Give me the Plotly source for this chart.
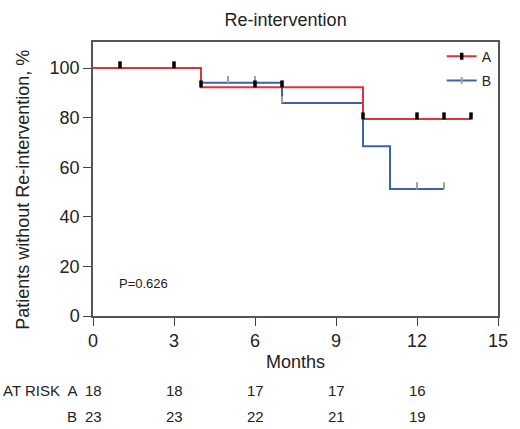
import plotly.graph_objects as go

# ---- data ----
time_a = [0, 4, 10, 14]
surv_a = [100, 92.3, 79.4, 79.4]
cens_time_a = [1, 3, 4, 6, 7, 10, 12, 13, 14]
cens_surv_a = [100, 100, 92.3, 92.3, 92.3, 79.4, 79.4, 79.4, 79.4]

time_b = [0, 4, 7, 10, 11, 13]
surv_b = [100, 94.1, 85.9, 68.5, 51.2, 51.2]
cens_time_b = [5, 6, 7, 12, 13]
cens_surv_b = [94.1, 94.1, 85.9, 51.2, 51.2]

risk_times = [0, 3, 6, 9, 12]
risk_a = [18, 18, 17, 17, 16]
risk_b = [23, 23, 22, 21, 19]
x_ticks = [0, 3, 6, 9, 12, 15]
y_ticks = [0, 20, 40, 60, 80, 100]

title_text = "Re-intervention"
y_title = "Patients without Re-intervention, %"
x_title = "Months"
p_text = "P=0.626"

RED = "#e0323c"
BLUE = "#3a62b4"
GRAY = "#a0a0a0"
FONT = "Liberation Sans, Arial, sans-serif"

# censor ticks sit just above the curve (visual offset, in y units)
MARK_LIFT = 1.3

fig = go.Figure()
fig.add_trace(go.Scatter(x=time_b, y=surv_b, mode="lines", line=dict(color=BLUE, width=2, shape="hv"),
                         showlegend=False, hoverinfo="skip"))
fig.add_trace(go.Scatter(x=time_a, y=surv_a, mode="lines", line=dict(color=RED, width=2, shape="hv"),
                         showlegend=False, hoverinfo="skip"))
fig.add_trace(go.Scatter(x=cens_time_b, y=[v + MARK_LIFT for v in cens_surv_b], mode="markers",
                         marker=dict(symbol="line-ns", size=5, line=dict(color=GRAY, width=2)),
                         showlegend=False))
fig.add_trace(go.Scatter(x=cens_time_a, y=[v + MARK_LIFT for v in cens_surv_a], mode="markers",
                         marker=dict(symbol="line-ns", size=5, line=dict(color="black", width=3.5)),
                         showlegend=False))
# legend entries
fig.add_trace(go.Scatter(x=[None], y=[None], mode="lines+markers", name="A", legendgroup="a",
                         line=dict(color=RED, width=2),
                         marker=dict(symbol="line-ns", size=5, line=dict(color="black", width=3.5))))
fig.add_trace(go.Scatter(x=[None], y=[None], mode="lines+markers", name="B", legendgroup="b",
                         line=dict(color=BLUE, width=2),
                         marker=dict(symbol="line-ns", size=5, line=dict(color=GRAY, width=2))))

fig.update_layout(
    width=520, height=429,
    margin=dict(l=93, r=17, t=42, b=113),
    paper_bgcolor="white", plot_bgcolor="white",
    font=dict(family=FONT, color="#222"),
    title=dict(text=title_text, x=(288 - 93) / 410, xref="paper", xanchor="center",
               y=1 - 20 / 429, yanchor="middle",
               font=dict(size=18, color="#222")),
    legend=dict(x=(446 - 93) / 410, y=1.005, xanchor="left", yanchor="top", bgcolor="rgba(0,0,0,0)",
                font=dict(size=14, color="#222"), itemwidth=30, tracegroupgap=3),
    showlegend=True,
)
fig.update_xaxes(range=[0, 15], tickvals=x_ticks, ticks="outside", ticklen=8, tickwidth=1.2,
                 tickcolor="#444", showline=True, linecolor="#555", linewidth=1.5, mirror=True,
                 showgrid=False, zeroline=False, tickfont=dict(size=18, color="#222"))
fig.update_yaxes(range=[0, 110.5], tickvals=y_ticks, ticks="outside", ticklen=8, tickwidth=1.2,
                 tickcolor="#444", showline=True, linecolor="#555", linewidth=1.5, mirror=True,
                 showgrid=False, zeroline=False, tickfont=dict(size=18, color="#222"))

ann = []
ann.append(dict(text=y_title, xref="paper", yref="paper", x=-93 / 410 + 22 / 410, y=(316 - 190) / 274,
                textangle=-90, showarrow=False, font=dict(size=18, color="#222"),
                xanchor="center", yanchor="middle"))
ann.append(dict(text=x_title, xref="x", yref="paper", x=7.5, y=(316 - 362) / 274, showarrow=False,
                font=dict(size=18, color="#222"), xanchor="center", yanchor="middle"))
ann.append(dict(text=p_text, xref="x", yref="y", x=0.88, y=13, showarrow=False,
                font=dict(size=13, color="#222"), xanchor="left", yanchor="middle"))
ya = (316 - 390) / 274
yb = (316 - 416) / 274
ann.append(dict(text="AT RISK  A", xref="paper", yref="paper", x=-93 / 410, y=ya, showarrow=False,
                font=dict(size=15, color="#222"), xanchor="left", yanchor="middle"))
ann.append(dict(text="B", xref="paper", yref="paper", x=-(93 - 79) / 410, y=yb, showarrow=False,
                font=dict(size=15, color="#222"), xanchor="right", yanchor="middle"))
for t, a, b in zip(risk_times, risk_a, risk_b):
    ann.append(dict(text=str(a), xref="x", yref="paper", x=t, y=ya, showarrow=False,
                    font=dict(size=15, color="#222"), xanchor="center", yanchor="middle"))
    ann.append(dict(text=str(b), xref="x", yref="paper", x=t, y=yb, showarrow=False,
                    font=dict(size=15, color="#222"), xanchor="center", yanchor="middle"))
fig.update_layout(annotations=ann)

fig.write_html("out.html", config={"displayModeBar": False},
               post_script="document.body.style.margin='0';document.body.style.overflow='hidden';")
